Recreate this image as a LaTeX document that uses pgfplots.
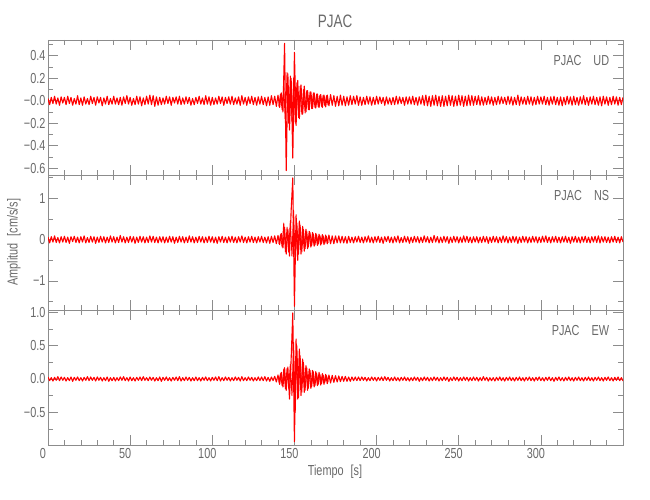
\documentclass[border=0pt]{standalone}
\usepackage{pgfplots}
\pgfplotsset{compat=1.18}
\usepackage{fontspec}
\setmainfont{Liberation Sans}[FakeStretch=0.75]
\definecolor{axgray}{RGB}{140,140,140}
\definecolor{txgray}{RGB}{105,105,105}
\newcommand{\lblfont}{\fontsize{14.5}{15}\selectfont}
\pgfplotsset{
 seis/.style={scale only axis, width=575pt, height=135pt, xmin=0, xmax=350,
  xtick={0,50,...,300}, minor xtick={10,20,...,340},
  tick align=inside, major tick length=10pt, minor tick length=5pt,
  axis line style={axgray, line width=0.6pt},
  tick style={axgray, line width=0.6pt},
  tick label style={font=\lblfont, text=txgray},
  xticklabel style={xshift=-5pt},
  yticklabel style={xshift=1pt},
 },
 trace/.style={red, line width=1.1pt, line join=round, mark=none},
 fill/.style={red, line width=0.9pt, line join=round, mark=none}
}
\begin{document}
\begin{tikzpicture}
\path[use as bounding box] (0,0) rectangle (650pt,500pt);
% ---------- UD ----------
\begin{axis}[seis, at={(48pt,325pt)}, anchor=south west,
  ymin=-0.66, ymax=0.54, xticklabels={},
  ytick={-0.6,-0.4,-0.2,0,0.2,0.4}, yticklabels={−0.6,−0.4,−0.2,−0.0,0.2,0.4},
  minor ytick={-0.5,-0.3,-0.1,0.1,0.3,0.5}]
\addplot[trace] table[row sep=\\, header=false, x expr=\coordindex, y index=0]{
0.02\\ -0.035\\ 0.03\\ -0.025\\ 0.04\\ -0.03\\ 0.025\\ -0.04\\ 0.035\\ -0.02\\
0.03\\ -0.035\\ 0.04\\ -0.025\\ 0.03\\ -0.04\\ 0.02\\ -0.03\\ 0.045\\ -0.035\\
0.025\\ -0.04\\ 0.035\\ -0.03\\ 0.02\\ -0.035\\ 0.04\\ -0.025\\ 0.03\\ -0.04\\
0.035\\ -0.02\\ 0.03\\ -0.045\\ 0.025\\ -0.03\\ 0.04\\ -0.035\\ 0.02\\ -0.03\\
0.04\\ -0.03\\ 0.025\\ -0.035\\ 0.03\\ -0.04\\ 0.035\\ -0.025\\ 0.045\\ -0.03\\
0.03\\ -0.04\\ 0.02\\ -0.035\\ 0.04\\ -0.03\\ 0.035\\ -0.045\\ 0.025\\ -0.035\\
0.04\\ -0.03\\ 0.05\\ -0.035\\ 0.045\\ -0.05\\ 0.035\\ -0.04\\ 0.03\\ -0.035\\
0.025\\ -0.03\\ 0.04\\ -0.025\\ 0.035\\ -0.04\\ 0.03\\ -0.02\\ 0.035\\ -0.03\\
0.04\\ -0.035\\ 0.025\\ -0.03\\ 0.035\\ -0.025\\ 0.03\\ -0.04\\ 0.02\\ -0.035\\
0.03\\ -0.025\\ 0.04\\ -0.03\\ 0.025\\ -0.035\\ 0.045\\ -0.03\\ 0.035\\ -0.04\\
0.03\\ -0.035\\ 0.025\\ -0.03\\ 0.04\\ -0.025\\ 0.035\\ -0.04\\ 0.03\\ -0.025\\
0.035\\ -0.03\\ 0.04\\ -0.035\\ 0.025\\ -0.03\\ 0.035\\ -0.04\\ 0.045\\ -0.03\\
0.03\\ -0.04\\ 0.035\\ -0.025\\ 0.04\\ -0.035\\ 0.03\\ -0.04\\ 0.035\\ -0.03\\
0.04\\ -0.035\\ 0.03\\ -0.045\\ 0.035\\ -0.04\\ 0.045\\ -0.035\\ 0.04\\ -0.05\\
0.05\\ -0.06\\ 0.07\\ -0.1\\ 0.51\\ -0.62\\ 0.24\\ -0.26\\ 0.2\\ -0.51\\
0.43\\ -0.22\\ 0.18\\ -0.16\\ 0.14\\ -0.12\\ 0.13\\ -0.1\\ 0.09\\ -0.08\\
0.08\\ -0.07\\ 0.07\\ -0.065\\ 0.06\\ -0.06\\ 0.055\\ -0.06\\ 0.05\\ -0.055\\
0.05\\ -0.045\\ 0.055\\ -0.04\\ 0.045\\ -0.05\\ 0.04\\ -0.045\\ 0.05\\ -0.04\\
0.04\\ -0.045\\ 0.035\\ -0.04\\ 0.045\\ -0.035\\ 0.04\\ -0.03\\ 0.045\\ -0.04\\
0.035\\ -0.04\\ 0.03\\ -0.035\\ 0.04\\ -0.03\\ 0.035\\ -0.04\\ 0.03\\ -0.035\\
0.04\\ -0.03\\ 0.035\\ -0.025\\ 0.03\\ -0.04\\ 0.035\\ -0.03\\ 0.025\\ -0.035\\
0.03\\ -0.035\\ 0.04\\ -0.03\\ 0.035\\ -0.025\\ 0.03\\ -0.04\\ 0.035\\ -0.03\\
0.035\\ -0.03\\ 0.04\\ -0.035\\ 0.03\\ -0.04\\ 0.035\\ -0.03\\ 0.045\\ -0.04\\
0.05\\ -0.045\\ 0.04\\ -0.05\\ 0.045\\ -0.04\\ 0.05\\ -0.045\\ 0.04\\ -0.05\\
0.045\\ -0.05\\ 0.04\\ -0.045\\ 0.05\\ -0.04\\ 0.045\\ -0.05\\ 0.04\\ -0.045\\
0.05\\ -0.04\\ 0.045\\ -0.05\\ 0.04\\ -0.045\\ 0.05\\ -0.04\\ 0.045\\ -0.04\\
0.04\\ -0.035\\ 0.045\\ -0.04\\ 0.035\\ -0.04\\ 0.03\\ -0.035\\ 0.04\\ -0.03\\
0.035\\ -0.04\\ 0.03\\ -0.035\\ 0.04\\ -0.03\\ 0.035\\ -0.025\\ 0.03\\ -0.035\\
0.04\\ -0.03\\ 0.035\\ -0.04\\ 0.03\\ -0.035\\ 0.05\\ -0.04\\ 0.035\\ -0.03\\
0.03\\ -0.035\\ 0.04\\ -0.03\\ 0.035\\ -0.04\\ 0.03\\ -0.035\\ 0.04\\ -0.03\\
0.035\\ -0.03\\ 0.04\\ -0.035\\ 0.03\\ -0.04\\ 0.035\\ -0.03\\ 0.04\\ -0.035\\
0.03\\ -0.04\\ 0.035\\ -0.045\\ 0.03\\ -0.035\\ 0.04\\ -0.03\\ 0.035\\ -0.04\\
0.04\\ -0.035\\ 0.03\\ -0.04\\ 0.035\\ -0.03\\ 0.045\\ -0.035\\ 0.03\\ -0.04\\
0.035\\ -0.03\\ 0.04\\ -0.035\\ 0.03\\ -0.04\\ 0.035\\ -0.045\\ 0.04\\ -0.03\\
0.035\\ -0.04\\ 0.03\\ -0.035\\ 0.04\\ -0.03\\ 0.035\\ -0.04\\ 0.03\\ -0.035\\
0.03\\
};
\addplot[fill] coordinates {(140.5,-0.05) (141.5,0.06) (142.5,-0.08) (143.5,0.12) (144.5,-0.2) (145.5,0.25) (146.5,-0.2) (147.5,0.22) (148.5,-0.18) (149.5,0.2) (150.5,-0.2) (151.5,0.16) (152.5,-0.15) (153.5,0.13) (154.5,-0.12) (155.5,0.1) (156.5,-0.11) (157.5,0.09) (158.5,-0.08) (159.5,0.08) (160.5,-0.07) (161.5,0.07) (162.5,-0.06) (163.5,0.06) (164.5,-0.055) (165.5,0.05) (166.5,-0.05) (167.5,0.05) (168.5,-0.045) (169.5,0.045) (170.5,-0.04)};
\node[anchor=east, text=txgray, font=\lblfont] at (axis description cs:0.982,0.85) {PJAC\hspace{12pt}UD};
\end{axis}
% ---------- NS ----------
\begin{axis}[seis, at={(48pt,190pt)}, anchor=south west,
  ymin=-1.7, ymax=1.56, xticklabels={},
  ytick={-1,0,1}, yticklabels={−1,0,1},
  minor ytick={-1.5,-0.5,0.5,1.5}]
\addplot[trace] table[row sep=\\, header=false, x expr=\coordindex, y index=0]{
0.06\\ -0.08\\ 0.07\\ -0.06\\ 0.09\\ -0.07\\ 0.05\\ -0.08\\ 0.07\\ -0.06\\
0.08\\ -0.07\\ 0.06\\ -0.09\\ 0.07\\ -0.05\\ 0.08\\ -0.07\\ 0.06\\ -0.08\\
0.07\\ -0.06\\ 0.09\\ -0.08\\ 0.05\\ -0.07\\ 0.08\\ -0.06\\ 0.07\\ -0.09\\
0.06\\ -0.07\\ 0.08\\ -0.06\\ 0.07\\ -0.08\\ 0.06\\ -0.07\\ 0.09\\ -0.06\\
0.07\\ -0.08\\ 0.06\\ -0.07\\ 0.1\\ -0.06\\ 0.07\\ -0.08\\ 0.06\\ -0.07\\
0.08\\ -0.06\\ 0.07\\ -0.09\\ 0.06\\ -0.07\\ 0.08\\ -0.06\\ 0.07\\ -0.08\\
0.06\\ -0.07\\ 0.09\\ -0.06\\ 0.08\\ -0.07\\ 0.06\\ -0.08\\ 0.07\\ -0.06\\
0.07\\ -0.08\\ 0.06\\ -0.07\\ 0.08\\ -0.06\\ 0.07\\ -0.09\\ 0.06\\ -0.07\\
0.08\\ -0.06\\ 0.07\\ -0.08\\ 0.06\\ -0.07\\ 0.09\\ -0.06\\ 0.07\\ -0.08\\
0.06\\ -0.07\\ 0.08\\ -0.06\\ 0.07\\ -0.08\\ 0.06\\ -0.07\\ 0.08\\ -0.06\\
0.07\\ -0.08\\ 0.06\\ -0.09\\ 0.07\\ -0.06\\ 0.08\\ -0.07\\ 0.06\\ -0.08\\
0.07\\ -0.06\\ 0.08\\ -0.07\\ 0.06\\ -0.08\\ 0.07\\ -0.06\\ 0.09\\ -0.07\\
0.06\\ -0.08\\ 0.07\\ -0.06\\ 0.08\\ -0.07\\ 0.06\\ -0.08\\ 0.07\\ -0.06\\
0.08\\ -0.07\\ 0.06\\ -0.08\\ 0.07\\ -0.09\\ 0.08\\ -0.07\\ 0.09\\ -0.1\\
0.1\\ -0.12\\ 0.15\\ -0.2\\ 0.3\\ -0.35\\ 0.25\\ -0.4\\ 0.7\\ 1.49\\
-1.61\\ 0.6\\ -0.5\\ 0.45\\ -0.35\\ 0.32\\ -0.28\\ 0.25\\ -0.22\\ 0.2\\
-0.18\\ 0.17\\ -0.16\\ 0.15\\ -0.14\\ 0.13\\ -0.13\\ 0.12\\ -0.12\\ 0.11\\
-0.1\\ 0.11\\ -0.1\\ 0.09\\ -0.1\\ 0.09\\ -0.08\\ 0.09\\ -0.08\\ 0.08\\
-0.08\\ 0.07\\ -0.09\\ 0.08\\ -0.07\\ 0.06\\ -0.08\\ 0.07\\ -0.06\\ 0.08\\
-0.07\\ 0.06\\ -0.08\\ 0.07\\ -0.06\\ 0.09\\ -0.07\\ 0.06\\ -0.08\\ 0.07\\
-0.06\\ 0.08\\ -0.07\\ 0.06\\ -0.09\\ 0.07\\ -0.05\\ 0.08\\ -0.07\\ 0.06\\
-0.08\\ 0.07\\ -0.06\\ 0.09\\ -0.08\\ 0.05\\ -0.07\\ 0.08\\ -0.06\\ 0.07\\
-0.09\\ 0.06\\ -0.07\\ 0.08\\ -0.06\\ 0.07\\ -0.08\\ 0.06\\ -0.07\\ 0.09\\
-0.06\\ 0.07\\ -0.08\\ 0.06\\ -0.07\\ 0.1\\ -0.06\\ 0.07\\ -0.08\\ 0.06\\
-0.07\\ 0.08\\ -0.06\\ 0.07\\ -0.09\\ 0.06\\ -0.07\\ 0.08\\ -0.06\\ 0.07\\
-0.08\\ 0.06\\ -0.07\\ 0.09\\ -0.06\\ 0.08\\ -0.07\\ 0.06\\ -0.08\\ 0.07\\
-0.06\\ 0.07\\ -0.08\\ 0.06\\ -0.07\\ 0.08\\ -0.06\\ 0.07\\ -0.09\\ 0.06\\
-0.07\\ 0.08\\ -0.06\\ 0.07\\ -0.08\\ 0.06\\ -0.07\\ 0.09\\ -0.06\\ 0.07\\
-0.08\\ 0.06\\ -0.07\\ 0.08\\ -0.06\\ 0.07\\ -0.09\\ 0.06\\ -0.07\\ 0.08\\
-0.06\\ 0.07\\ -0.08\\ 0.06\\ -0.07\\ 0.08\\ -0.06\\ 0.07\\ -0.08\\ 0.06\\
-0.07\\ 0.08\\ -0.06\\ 0.09\\ -0.07\\ 0.06\\ -0.08\\ 0.07\\ -0.06\\ 0.08\\
-0.07\\ 0.06\\ -0.08\\ 0.07\\ -0.06\\ 0.08\\ -0.07\\ 0.06\\ -0.09\\ 0.07\\
-0.06\\ 0.08\\ -0.07\\ 0.06\\ -0.08\\ 0.07\\ -0.06\\ 0.08\\ -0.07\\ 0.06\\
-0.08\\ 0.07\\ -0.06\\ 0.08\\ -0.07\\ 0.09\\ -0.08\\ 0.07\\ -0.06\\ 0.07\\
-0.07\\ 0.06\\ -0.08\\ 0.07\\ -0.06\\ 0.08\\ -0.07\\ 0.06\\ -0.08\\ 0.07\\
-0.06\\
};
\addplot[fill] coordinates {(140.5,-0.1) (141.5,0.12) (142.5,-0.18) (143.5,0.4) (144.5,-0.3) (145.5,0.3) (146.5,-0.3) (147.5,0.45) (148.5,-0.4) (149.5,0.7) (150.5,-0.6) (151.5,0.4) (152.5,-0.35) (153.5,0.35) (154.5,-0.3) (155.5,0.25) (156.5,-0.22) (157.5,0.2) (158.5,-0.18) (159.5,0.17) (160.5,-0.15) (161.5,0.14) (162.5,-0.13) (163.5,0.12) (164.5,-0.11) (165.5,0.1) (166.5,-0.1) (167.5,0.09) (168.5,-0.09) (169.5,0.08) (170.5,-0.08)};
\node[anchor=east, text=txgray, font=\lblfont] at (axis description cs:0.982,0.85) {PJAC\hspace{12pt}NS};
\end{axis}
% ---------- EW ----------
\begin{axis}[seis, at={(48pt,55pt)}, anchor=south west,
  ymin=-0.99, ymax=1.035,
  xticklabels={0,50,100,150,200,250,300},
  ytick={-0.5,0,0.5,1}, yticklabels={−0.5,0.0,0.5,1.0},
  minor ytick={-0.75,-0.25,0.25,0.75}]
\addplot[trace] table[row sep=\\, header=false, x expr=\coordindex, y index=0]{
0.03\\ -0.025\\ 0.02\\ -0.03\\ 0.025\\ -0.02\\ 0.035\\ -0.025\\ 0.03\\ -0.02\\
0.025\\ -0.03\\ 0.02\\ -0.025\\ 0.03\\ -0.035\\ 0.025\\ -0.02\\ 0.03\\ -0.025\\
0.02\\ -0.03\\ 0.025\\ -0.02\\ 0.035\\ -0.025\\ 0.03\\ -0.02\\ 0.025\\ -0.03\\
0.03\\ -0.02\\ 0.025\\ -0.03\\ 0.02\\ -0.025\\ 0.03\\ -0.035\\ 0.02\\ -0.025\\
0.025\\ -0.03\\ 0.02\\ -0.025\\ 0.03\\ -0.02\\ 0.035\\ -0.025\\ 0.02\\ -0.03\\
0.03\\ -0.025\\ 0.02\\ -0.03\\ 0.025\\ -0.02\\ 0.03\\ -0.025\\ 0.035\\ -0.02\\
0.02\\ -0.025\\ 0.03\\ -0.02\\ 0.025\\ -0.03\\ 0.02\\ -0.025\\ 0.03\\ -0.035\\
0.025\\ -0.02\\ 0.03\\ -0.025\\ 0.02\\ -0.03\\ 0.025\\ -0.02\\ 0.03\\ -0.025\\
0.035\\ -0.03\\ 0.02\\ -0.025\\ 0.03\\ -0.02\\ 0.025\\ -0.03\\ 0.02\\ -0.025\\
0.03\\ -0.025\\ 0.02\\ -0.03\\ 0.025\\ -0.02\\ 0.03\\ -0.025\\ 0.02\\ -0.03\\
0.025\\ -0.02\\ 0.03\\ -0.025\\ 0.035\\ -0.03\\ 0.02\\ -0.025\\ 0.03\\ -0.02\\
0.025\\ -0.03\\ 0.02\\ -0.025\\ 0.03\\ -0.02\\ 0.025\\ -0.03\\ 0.035\\ -0.025\\
0.02\\ -0.025\\ 0.03\\ -0.02\\ 0.025\\ -0.03\\ 0.02\\ -0.025\\ 0.03\\ -0.025\\
0.03\\ -0.025\\ 0.035\\ -0.03\\ 0.025\\ -0.035\\ 0.03\\ -0.025\\ 0.04\\ -0.045\\
0.06\\ -0.08\\ 0.1\\ -0.12\\ 0.17\\ -0.17\\ 0.18\\ -0.3\\ 0.3\\ 0.99\\
-0.94\\ 0.6\\ -0.3\\ 0.45\\ -0.25\\ 0.3\\ -0.2\\ 0.2\\ -0.17\\ 0.15\\
-0.14\\ 0.13\\ -0.12\\ 0.11\\ -0.1\\ 0.1\\ -0.09\\ 0.08\\ -0.08\\ 0.07\\
-0.07\\ 0.06\\ -0.06\\ 0.055\\ -0.05\\ 0.05\\ -0.045\\ 0.045\\ -0.04\\ 0.04\\
-0.035\\ 0.04\\ -0.035\\ 0.03\\ -0.035\\ 0.03\\ -0.025\\ 0.03\\ -0.025\\ 0.03\\
-0.025\\ 0.03\\ -0.02\\ 0.025\\ -0.03\\ 0.02\\ -0.025\\ 0.03\\ -0.02\\ 0.025\\
-0.03\\ 0.025\\ -0.02\\ 0.03\\ -0.025\\ 0.035\\ -0.02\\ 0.025\\ -0.03\\ 0.02\\
-0.025\\ 0.03\\ -0.025\\ 0.02\\ -0.03\\ 0.025\\ -0.02\\ 0.03\\ -0.025\\ 0.02\\
-0.03\\ 0.02\\ -0.025\\ 0.03\\ -0.02\\ 0.025\\ -0.035\\ 0.02\\ -0.025\\ 0.03\\
-0.02\\ 0.025\\ -0.03\\ 0.02\\ -0.025\\ 0.03\\ -0.02\\ 0.025\\ -0.03\\ 0.02\\
-0.025\\ 0.03\\ -0.02\\ 0.025\\ -0.035\\ 0.02\\ -0.025\\ 0.03\\ -0.02\\ 0.025\\
-0.03\\ 0.02\\ -0.025\\ 0.03\\ -0.02\\ 0.025\\ -0.03\\ 0.02\\ -0.025\\ 0.03\\
-0.02\\ 0.025\\ -0.03\\ 0.02\\ -0.025\\ 0.035\\ -0.02\\ 0.025\\ -0.03\\ 0.02\\
-0.025\\ 0.02\\ -0.03\\ 0.025\\ -0.02\\ 0.03\\ -0.025\\ 0.02\\ -0.03\\ 0.025\\
-0.02\\ 0.03\\ -0.025\\ 0.02\\ -0.03\\ 0.025\\ -0.02\\ 0.03\\ -0.025\\ 0.02\\
-0.03\\ 0.025\\ -0.02\\ 0.03\\ -0.025\\ 0.02\\ -0.03\\ 0.025\\ -0.02\\ 0.03\\
-0.025\\ 0.02\\ -0.03\\ 0.025\\ -0.02\\ 0.03\\ -0.025\\ 0.02\\ -0.035\\ 0.025\\
-0.02\\ 0.03\\ -0.025\\ 0.02\\ -0.03\\ 0.025\\ -0.02\\ 0.03\\ -0.025\\ 0.02\\
-0.03\\ 0.025\\ -0.02\\ 0.03\\ -0.025\\ 0.02\\ -0.03\\ 0.025\\ -0.02\\ 0.03\\
-0.025\\ 0.02\\ -0.03\\ 0.025\\ -0.02\\ 0.03\\ -0.025\\ 0.02\\ -0.03\\ 0.025\\
-0.02\\ 0.03\\ -0.025\\ 0.02\\ -0.03\\ 0.025\\ -0.02\\ 0.03\\ -0.025\\ 0.02\\
-0.03\\
};
\addplot[fill] coordinates {(140.5,-0.05) (141.5,0.08) (142.5,-0.1) (143.5,0.15) (144.5,-0.15) (145.5,0.16) (146.5,-0.14) (147.5,0.22) (148.5,-0.25) (149.5,0.55) (150.5,-0.5) (151.5,0.5) (152.5,-0.28) (153.5,0.35) (154.5,-0.2) (155.5,0.25) (156.5,-0.17) (157.5,0.17) (158.5,-0.14) (159.5,0.13) (160.5,-0.12) (161.5,0.11) (162.5,-0.1) (163.5,0.09) (164.5,-0.08) (165.5,0.07) (166.5,-0.07) (167.5,0.06) (168.5,-0.05) (169.5,0.05) (170.5,-0.04)};
\node[anchor=east, text=txgray, font=\lblfont] at (axis description cs:0.982,0.85) {PJAC\hspace{12pt}EW};
\end{axis}
% ---------- titles ----------
\node[text=txgray, font=\fontsize{18}{20}\selectfont] at (335pt,479pt) {PJAC};
\node[text=txgray, font=\lblfont] at (335pt,28pt) {Tiempo\hspace{7pt}[s]};
\node[text=txgray, font=\lblfont, rotate=90] at (14pt,258pt) {Amplitud\hspace{7pt}[cm/s/s]};
\end{tikzpicture}
\end{document}
